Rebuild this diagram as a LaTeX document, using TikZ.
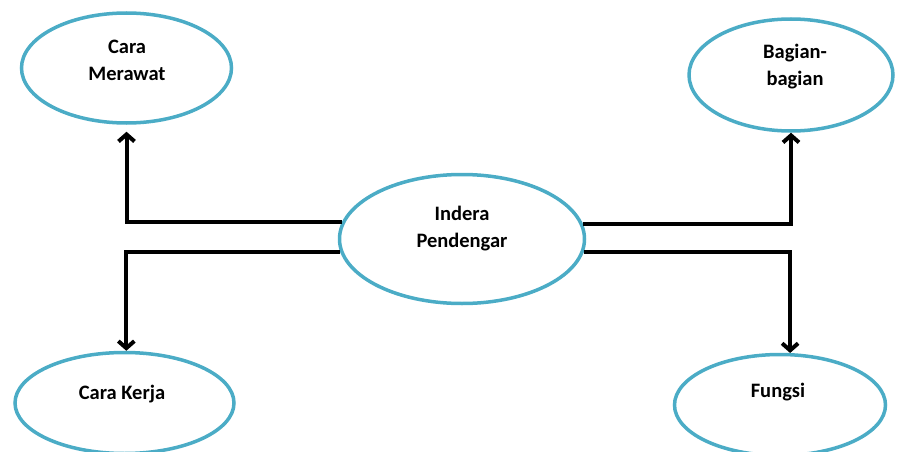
\documentclass[tikz,border=0pt]{standalone}
\usepackage{fontspec}
\setmainfont{Carlito}
\usetikzlibrary{shapes.geometric,arrows.meta}
\definecolor{ebord}{HTML}{4BACC6}
\tikzset{
  oval/.style={ellipse,draw=ebord,line width=3.5pt,inner sep=0pt},
  lbl/.style={font=\bfseries\fontsize{20.5}{27}\selectfont,align=center,inner sep=0pt},
  conn/.style={line width=4pt,-{Straight Barb[length=7pt,width=16pt,line width=4pt]}}
}
\begin{document}
\begin{tikzpicture}[x=1pt,y=-1pt]
\useasboundingbox (0,0) rectangle (897,452);
\node[oval,minimum width=210pt,minimum height=110pt] (tl) at (126.5,68) {};
\node[oval,minimum width=204pt,minimum height=112pt] (tr) at (791,75) {};
\node[oval,minimum width=245pt,minimum height=129pt] (c) at (462,239) {};
\node[oval,minimum width=219pt,minimum height=101pt] (bl) at (124.5,403) {};
\node[oval,minimum width=211pt,minimum height=101pt] (br) at (780,405) {};
\node[lbl] (tlt) at (127,60) {Cara\\Merawat};
\node[lbl] (trt) at (795,67) {Bagian-\\bagian};
\node[lbl] (ct) at (462,229) {Indera\\Pendengar};
\node[lbl] (blt) at (122,394) {Cara Kerja};
\node[lbl] (brt) at (778,392) {Fungsi};
\draw[conn,shorten >=7pt] (c.172.4) -| (tl.south);
\draw[conn] (c.7.6) -| (tr.south);
\draw[conn] (c.186.1) -| (bl.88);
\draw[conn] (c.-6.1) -| (br.79);
\end{tikzpicture}
\end{document}
